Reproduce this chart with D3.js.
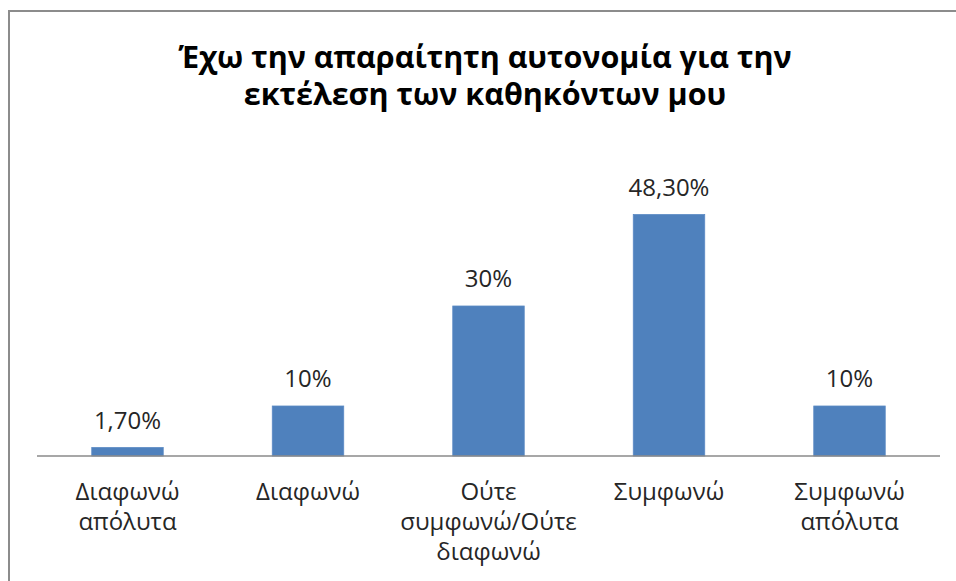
<!DOCTYPE html>
<html>
<head>
<meta charset="utf-8">
<script src="https://cdn.jsdelivr.net/npm/d3@7"></script>
<style>
  html, body { margin: 0; padding: 0; background: #ffffff; }
  svg { display: block; }
</style>
</head>
<body>
<script>
// Survey answers: "I have the necessary autonomy to carry out my duties"
const categories = [
  ["Διαφωνώ", "απόλυτα"],
  ["Διαφωνώ"],
  ["Ούτε", "συμφωνώ/Ούτε", "διαφωνώ"],
  ["Συμφωνώ"],
  ["Συμφωνώ", "απόλυτα"]
];
const values = [1.7, 10, 30, 48.3, 10];
const valueLabels = ["1,70%", "10%", "30%", "48,30%", "10%"];
const titleLines = ["Έχω την απαραίτητη αυτονομία για την", "εκτέλεση των καθηκόντων μου"];

const W = 956, H = 581;
const FONT = "'Open Sans', 'Noto Sans', sans-serif";

const svg = d3.select("body").append("svg")
  .attr("width", W).attr("height", H);

// chart frame (continues past the right and bottom edges)
svg.append("rect")
  .attr("x", 9).attr("y", 11)
  .attr("width", W + 20).attr("height", H + 20)
  .attr("fill", "#ffffff")
  .attr("stroke", "#8c8c8c")
  .attr("stroke-width", 2);

// title
const title = svg.append("text")
  .attr("text-anchor", "middle")
  .attr("font-family", FONT)
  .attr("font-weight", "bold")
  .attr("font-size", 30.5)
  .attr("fill", "#000000");
titleLines.forEach((t, i) => {
  title.append("tspan").attr("x", 485).attr("y", 68 + i * 37).text(t);
});

const keys = d3.range(categories.length);
const x = d3.scaleBand()
  .domain(keys)
  .range([37.25, 939.75])
  .paddingInner(0.604)
  .paddingOuter(0.302);

const y = d3.scaleLinear().domain([0, 60]).range([456, 156]);

// bars
svg.append("g").selectAll("rect")
  .data(values)
  .join("rect")
  .attr("x", (d, i) => x(i))
  .attr("y", d => y(d))
  .attr("width", x.bandwidth())
  .attr("height", d => y(0) - y(d))
  .attr("fill", "#4f81bd")
  .attr("stroke", "#5b8ac4")
  .attr("stroke-width", 0.8);

// category axis
const xAxis = d3.axisBottom(x).tickSize(0).tickFormat(() => "");
const axisG = svg.append("g")
  .attr("transform", `translate(0,${y(0)})`)
  .call(xAxis);
axisG.select(".domain")
  .attr("d", "M37,0H940")
  .attr("stroke", "#8a8a8a")
  .attr("stroke-width", 1.5);

axisG.selectAll(".tick").each(function(d) {
  const t = d3.select(this).select("text")
    .attr("y", 0).attr("dy", null)
    .attr("font-family", FONT)
    .attr("font-size", 24)
    .attr("fill", "#262626");
  categories[d].forEach((line, j) => {
    t.append("tspan").attr("x", 0).attr("y", 44 + j * 30).text(line);
  });
});

// value labels
svg.append("g").selectAll("text")
  .data(values)
  .join("text")
  .attr("x", (d, i) => x(i) + x.bandwidth() / 2)
  .attr("y", d => y(d) - 19)
  .attr("text-anchor", "middle")
  .attr("font-family", FONT)
  .attr("font-size", 24)
  .attr("fill", "#262626")
  .text((d, i) => valueLabels[i]);
</script>
</body>
</html>
